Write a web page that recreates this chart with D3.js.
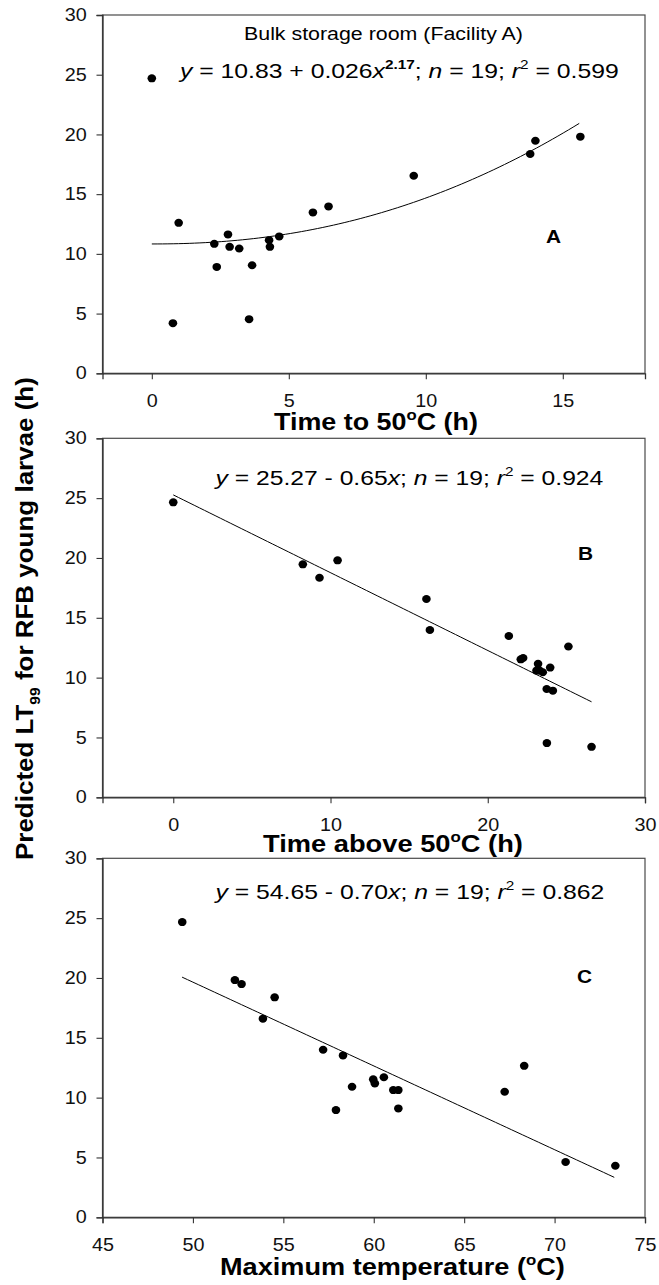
<!DOCTYPE html>
<html><head><meta charset="utf-8">
<script src="https://cdn.jsdelivr.net/npm/d3@7"></script>
<style>
body{margin:0;background:#fff}
svg{display:block}
text{font-family:"Liberation Sans", Arial, sans-serif;}
</style>
</head><body>
<svg id="chart" width="659" height="1285"></svg>
<script>
// ---------- data ----------
const yTicks = [0, 5, 10, 15, 20, 25, 30];
const xTicksA = [0, 5, 10, 15];
const xTicksB = [0, 10, 20, 30];
const xTicksC = [45, 50, 55, 60, 65, 70, 75];

// Panel A: time to 50 °C (h) vs predicted LT99 (h)
const timeTo50 = [0, 0.98, 0.77, 2.28, 2.37, 2.78, 2.84, 3.19, 3.55, 3.66, 4.28, 4.31, 4.65, 5.88, 6.45, 9.56, 13.81, 14.0, 15.64];
const lt99A    = [24.7, 12.6, 4.2, 10.84, 8.91, 11.63, 10.59, 10.45, 4.53, 9.05, 11.15, 10.59, 11.46, 13.47, 13.97, 16.54, 18.36, 19.47, 19.81];

// Panel B: time above 50 °C (h)
const timeAbove50 = [0, 8.24, 9.3, 10.45, 16.1, 16.32, 21.34, 22.1, 22.25, 23.2, 23.1, 23.3, 23.5, 23.97, 23.75, 24.14, 25.13, 23.76, 26.6];
const lt99B       = [24.65, 19.47, 18.35, 19.8, 16.57, 13.98, 13.48, 11.53, 11.64, 11.15, 10.59, 10.59, 10.45, 10.84, 9.05, 8.91, 12.6, 4.53, 4.22];

// Panel C: maximum temperature (°C)
const maxTemp = [49.41, 52.32, 52.69, 54.52, 53.87, 57.2, 58.3, 58.8, 57.91, 59.97, 60.06, 60.56, 61.08, 61.36, 61.36, 67.24, 68.32, 70.61, 73.36];
const lt99C   = [24.67, 19.82, 19.49, 18.38, 16.6, 14.0, 13.53, 10.91, 8.96, 11.53, 11.19, 11.7, 10.63, 10.63, 9.1, 10.49, 12.66, 4.62, 4.31];

// Fitted equations (from the figure)
const fitA = {a: 10.83, b: 0.026, c: 2.17, from: 0, to: 15.6};   // y = a + b x^c
const fitB = {a: 25.27, b: -0.65, from: 0, to: 26.6};            // y = a + b x
const fitC = {a: 54.65, b: -0.70, from: 49.4, to: 73.3};         // y = a + b x

// ---------- layout ----------
const svg = d3.select("#chart");
const L = 102.5, R = 645;
const SX = 1.13; // horizontal stretch of the original figure

function rich(parent, segs, o) {
  const t = parent.append("text")
    .attr("font-size", o.size)
    .attr("font-weight", o.weight || "normal")
    .attr("fill", "#000");
  let shift = 0;
  segs.forEach(s => {
    const ts = t.append("tspan").text(s.t);
    if (s.i) ts.attr("font-style", "italic");
    if (s.b) ts.attr("font-weight", "bold");
    let target = 0;
    if (s.sup) { ts.attr("font-size", o.size * 0.62); target = -o.size * 0.42; }
    if (s.sub) { ts.attr("font-size", o.size * 0.6); target = o.size * 0.28; }
    const dy = target - shift;
    if (dy) ts.attr("dy", dy);
    shift = target;
  });
  const w = t.node().getComputedTextLength();
  const s = o.width ? o.width / w : (o.sx || 1);
  if (o.rotate) {
    t.attr("transform", `translate(${o.x},${o.y}) rotate(-90) translate(${-w * s / 2},0) scale(${s},1)`);
  } else {
    let x0 = o.x;
    if (o.anchor === "middle") x0 -= w * s / 2;
    if (o.anchor === "end") x0 -= w * s;
    t.attr("transform", `translate(${x0},${o.y}) scale(${s},1)`);
  }
  return t;
}

function panel(cfg) {
  const g = svg.append("g");
  const x = d3.scaleLinear().domain(cfg.xDomain).range([L, R]);
  const y = d3.scaleLinear().domain([0, 30]).range([cfg.bottom, cfg.top]);

  // frame
  g.append("rect").attr("x", L).attr("y", cfg.top).attr("width", R - L).attr("height", cfg.bottom - cfg.top)
    .attr("fill", "none").attr("stroke", "#4a4a4a").attr("stroke-width", 1.2);

  // y axis
  const ya = g.append("g").attr("transform", `translate(${L},0)`)
    .call(d3.axisLeft(y).tickValues(yTicks).tickSize(6).tickPadding(8).tickFormat(d3.format("d")));
  // x axis
  const xa = g.append("g").attr("transform", `translate(0,${cfg.bottom})`)
    .call(d3.axisBottom(x).tickValues(cfg.xTicks).tickSize(6).tickPadding(15.6).tickFormat(d3.format("d")));
  [ya, xa].forEach(a => {
    a.select(".domain").attr("stroke", "#333").attr("stroke-width", 1.3);
    a.selectAll(".tick line").attr("stroke", "#333").attr("stroke-width", 1.1);
    a.selectAll(".tick text").attr("font-size", 17.5).attr("fill", "#111")
      .attr("font-family", '"Liberation Sans", Arial, sans-serif')
      .attr("transform", `scale(${SX},1)`);
  });

  // fit line
  const n = 80;
  const xs = d3.range(n + 1).map(i => cfg.fit.from + (cfg.fit.to - cfg.fit.from) * i / n);
  const line = d3.line().x(d => x(d)).y(d => y(cfg.fitFn(d)));
  g.append("path").datum(xs).attr("d", line).attr("fill", "none").attr("stroke", "#000").attr("stroke-width", 1);

  // points
  g.selectAll("ellipse.pt").data(cfg.xs).enter().append("ellipse")
    .attr("cx", d => x(d)).attr("cy", (d, i) => y(cfg.ys[i]))
    .attr("rx", 4.3).attr("ry", 4).attr("fill", "#000");

  return {g, x, y};
}

// Panel A
const pA = panel({top: 15, bottom: 373.3, xDomain: [-1.8, 18], xTicks: xTicksA,
  xs: timeTo50, ys: lt99A, fit: fitA, fitFn: v => fitA.a + fitA.b * Math.pow(v, fitA.c)});
// Panel B
const pB = panel({top: 438.3, bottom: 797.3, xDomain: [-4.5, 30], xTicks: xTicksB,
  xs: timeAbove50, ys: lt99B, fit: fitB, fitFn: v => fitB.a + fitB.b * v});
// Panel C
const pC = panel({top: 858.3, bottom: 1217.3, xDomain: [45, 75], xTicks: xTicksC,
  xs: maxTemp, ys: lt99C, fit: fitC, fitFn: v => fitC.a + fitC.b * v});

// ---------- texts ----------
rich(svg, [{t: "Bulk storage room (Facility A)"}], {x: 244, y: 39.5, size: 17.7, width: 279});

rich(svg, [{t: "y", i: 1}, {t: " = 10.83 + 0.026"}, {t: "x", i: 1}, {t: "2.17", sup: 1, b: 1},
           {t: "; "}, {t: "n", i: 1}, {t: " = 19; "}, {t: "r", i: 1}, {t: "2", sup: 1}, {t: " = 0.599"}],
  {x: 180, y: 78, size: 21, width: 439});
rich(svg, [{t: "y", i: 1}, {t: " = 25.27 - 0.65"}, {t: "x", i: 1},
           {t: "; "}, {t: "n", i: 1}, {t: " = 19; "}, {t: "r", i: 1}, {t: "2", sup: 1}, {t: " = 0.924"}],
  {x: 215.5, y: 485, size: 21, width: 388});
rich(svg, [{t: "y", i: 1}, {t: " = 54.65 - 0.70"}, {t: "x", i: 1},
           {t: "; "}, {t: "n", i: 1}, {t: " = 19; "}, {t: "r", i: 1}, {t: "2", sup: 1}, {t: " = 0.862"}],
  {x: 215.5, y: 899, size: 21, width: 389});

rich(svg, [{t: "A"}], {x: 546, y: 243, size: 18.5, weight: "bold", sx: SX});
rich(svg, [{t: "B"}], {x: 578, y: 560, size: 18.5, weight: "bold", sx: SX});
rich(svg, [{t: "C"}], {x: 577, y: 983, size: 18.5, weight: "bold", sx: SX});

rich(svg, [{t: "Time to 50"}, {t: "o", sup: 1}, {t: "C (h)"}], {x: 274, y: 430, size: 23.5, weight: "bold", width: 204});
rich(svg, [{t: "Time above 50"}, {t: "o", sup: 1}, {t: "C (h)"}], {x: 263, y: 852, size: 23.5, weight: "bold", width: 260});
rich(svg, [{t: "Maximum temperature ("}, {t: "o", sup: 1}, {t: "C)"}], {x: 220, y: 1275, size: 23.5, weight: "bold", width: 345});

rich(svg, [{t: "Predicted LT"}, {t: "99", sub: 1}, {t: " for RFB young larvae (h)"}],
  {x: 33, y: 618.5, size: 24, weight: "bold", width: 483, rotate: true});
</script>
</body></html>
